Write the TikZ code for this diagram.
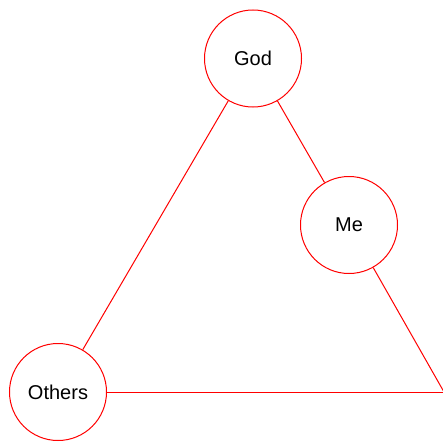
\documentclass[tikz,border=0pt]{standalone}
\usepackage{fontspec}
\setmainfont{Liberation Sans}
\usepackage{xcolor}

\begin{document}
\begin{tikzpicture}[x=1pt,y=-1pt]
    % --- MANUAL CONFIGURATION ---
    % 1. Circle size (diameter of each circle)
    \def\Diam{97pt}

    % 2. Define colors explicitly for this diagram
    \definecolor{myRed}{RGB}{255, 0, 0}

    % --- STYLES ---
    \tikzset{
        personNode/.style={circle, draw=myRed, fill=white, line width=1pt, minimum size=\Diam, inner sep=0pt, font=\fontsize{20}{24}\selectfont},
        edgeLine/.style={draw=myRed, line width=1pt}
    }

    % --- FRAME ---
    \useasboundingbox (0,0) rectangle (443,441);
    \clip (0,0) rectangle (443,441);

    % --- NODES ---

    % Top
    \node[personNode] (god) at (253,58.5) {God};

    % Right side, halfway down
    \node[personNode] (me) at (349,225) {Me};

    % Bottom left
    \node[personNode] (others) at (58,392) {Others};

    % Bottom right corner (no circle)
    \coordinate (corner) at (444,392);

    % --- LINES ---
    \draw[edgeLine] (god) -- (others);
    \draw[edgeLine] (god) -- (me);
    \draw[edgeLine] (me) -- (corner);
    \draw[edgeLine] (others) -- (corner);

\end{tikzpicture}
\end{document}
